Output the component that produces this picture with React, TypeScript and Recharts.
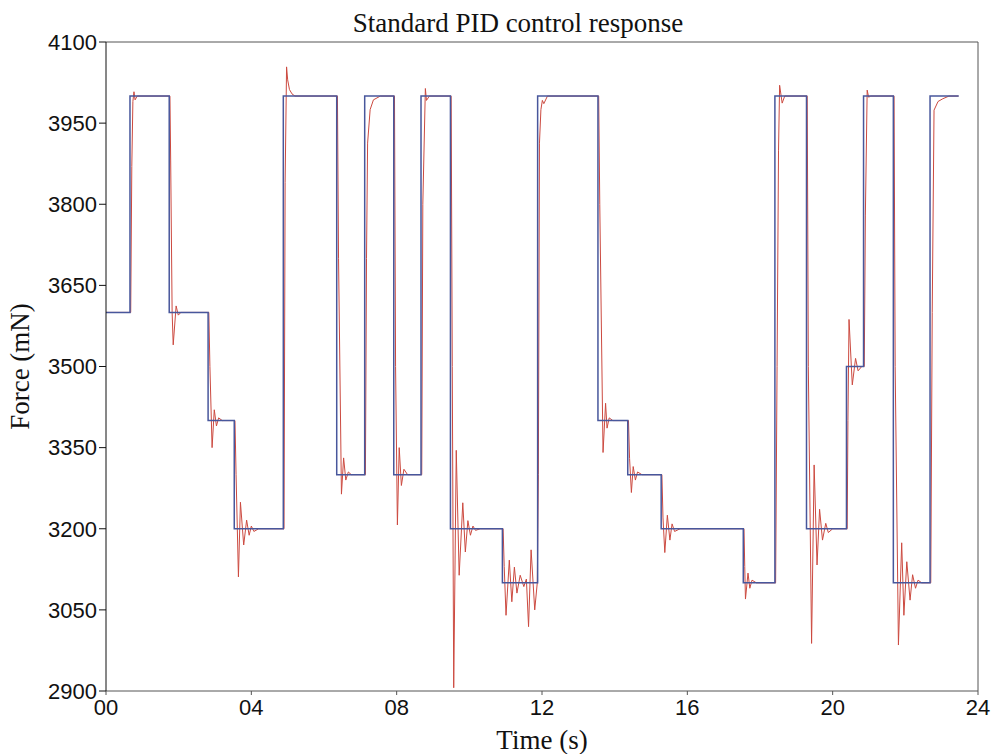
import React from "react";
import { LineChart, Line, XAxis, YAxis, ReferenceLine } from "recharts";

// Setpoint (blue): [time s, force mN], drawn as steps
const setpoint: [number, number][] = [
  [0, 3600], [0.66, 4000], [1.74, 3600], [2.81, 3400], [3.53, 3200],
  [4.88, 4000], [6.35, 3300], [7.12, 4000], [7.92, 3300], [8.67, 4000],
  [9.48, 3200], [10.91, 3100], [11.88, 4000], [13.54, 3400], [14.36, 3300],
  [15.28, 3200], [17.54, 3100], [18.41, 4000], [19.28, 3200], [20.38, 3500],
  [20.85, 4000], [21.67, 3100], [22.68, 4000], [23.47, 4000],
];

// Measured response (red): [time s, force mN]
const response: [number, number][] = [
  [0, 3600], [0.68, 3600], [0.71, 3870], [0.74, 3990], [0.77, 4008], [0.8, 3993], [0.86, 4000],
  [1.76, 4000], [1.78, 3880], [1.82, 3600], [1.85, 3540], [1.93, 3612], [1.99, 3595], [2.06, 3600],
  [2.83, 3600], [2.86, 3500], [2.92, 3350], [2.98, 3420], [3.04, 3390], [3.1, 3405], [3.2, 3400],
  [3.55, 3400], [3.58, 3300], [3.645, 3111], [3.7, 3249], [3.79, 3170], [3.87, 3216], [3.94, 3188],
  [4.0, 3205], [4.07, 3195], [4.2, 3200],
  [4.9, 3200], [4.93, 3840], [4.97, 4054], [5.0, 4030], [5.05, 4012], [5.12, 4004], [5.2, 4000],
  [6.37, 4000], [6.4, 3700], [6.48, 3264], [6.54, 3331], [6.6, 3290], [6.67, 3305], [6.75, 3300],
  [7.14, 3300], [7.17, 3700], [7.2, 3913], [7.27, 3975], [7.36, 3993], [7.55, 4000],
  [7.94, 4000], [7.97, 3500], [8.02, 3207], [8.07, 3350], [8.13, 3280], [8.2, 3310], [8.3, 3300],
  [8.69, 3300], [8.72, 3800], [8.79, 4014], [8.82, 3992], [8.9, 4000],
  [9.5, 4000], [9.53, 3500], [9.57, 2906], [9.64, 3345], [9.72, 3114], [9.82, 3248], [9.89, 3157],
  [9.96, 3215], [10.03, 3188], [10.1, 3205], [10.17, 3197], [10.3, 3200],
  [10.93, 3200], [10.96, 3130], [11.01, 3040], [11.1, 3142], [11.17, 3065], [11.24, 3129],
  [11.31, 3081], [11.4, 3114], [11.5, 3093], [11.57, 3107], [11.63, 3019], [11.7, 3161],
  [11.8, 3050], [11.87, 3100],
  [11.9, 3300], [11.93, 3913], [11.97, 3975], [12.01, 3992], [12.05, 3986], [12.15, 4000],
  [13.56, 4000], [13.59, 3800], [13.68, 3341], [13.75, 3432], [13.79, 3386], [13.85, 3405], [13.95, 3400],
  [14.38, 3400], [14.41, 3330], [14.46, 3267], [14.51, 3315], [14.57, 3290], [14.63, 3305], [14.75, 3300],
  [15.3, 3300], [15.33, 3220], [15.38, 3156], [15.45, 3225], [15.52, 3179], [15.58, 3209],
  [15.65, 3195], [15.8, 3200],
  [17.56, 3200], [17.58, 3130], [17.6, 3070], [17.67, 3118], [17.72, 3090], [17.78, 3105], [17.9, 3100],
  [18.43, 3100], [18.47, 3500], [18.51, 3900], [18.54, 4020], [18.61, 3987], [18.68, 4000],
  [19.3, 4000], [19.33, 3500], [19.42, 2988], [19.49, 3318], [19.57, 3133], [19.64, 3236],
  [19.72, 3179], [19.81, 3210], [19.88, 3193], [20.0, 3200],
  [20.4, 3200], [20.42, 3400], [20.45, 3587], [20.54, 3466], [20.63, 3515], [20.7, 3492], [20.8, 3500],
  [20.87, 3500], [20.9, 3780], [20.95, 4011], [20.99, 3998], [21.05, 4000],
  [21.69, 4000], [21.72, 3500], [21.81, 2985], [21.9, 3174], [21.96, 3040], [22.04, 3139],
  [22.13, 3068], [22.2, 3115], [22.28, 3090], [22.35, 3105], [22.45, 3100],
  [22.7, 3100], [22.74, 3600], [22.79, 3974], [22.9, 3990], [23.03, 3995], [23.2, 4000], [23.46, 4000],
];

const xTicks = [0, 4, 8, 12, 16, 20, 24];
const yTicks = [2900, 3050, 3200, 3350, 3500, 3650, 3800, 3950, 4100];

const setpointData = setpoint.map(([t, f]) => ({ t, f }));
const responseData = response.map(([t, f]) => ({ t, f }));

const SANS = "'Liberation Sans', Arial, sans-serif";
const SERIF = "'Liberation Serif', 'Times New Roman', serif";

export default function App() {
  return (
    <div style={{ position: "absolute", left: 0, top: 0, width: 991, height: 754, background: "#fff" }}>
      <div
        style={{
          position: "absolute", left: 268, top: 10, width: 500, textAlign: "center",
          fontFamily: SERIF, fontSize: 27, lineHeight: "27px", color: "#111",
        }}
      >
        Standard PID control response
      </div>
      <LineChart width={991} height={754} margin={{ top: 42, right: 13, bottom: 0, left: 0 }}>
        <XAxis
          dataKey="t"
          type="number"
          domain={[0, 24]}
          ticks={xTicks}
          allowDataOverflow
          tickFormatter={(v) => String(v).padStart(2, "0")}
          height={63}
          tickSize={4}
          tickMargin={4}
          stroke="#555"
          tick={{ fill: "#111", fontFamily: SANS, fontSize: 22 }}
          label={{ value: "Time (s)", position: "insideBottom", offset: 5, fill: "#111", fontFamily: SERIF, fontSize: 27 }}
        />
        <YAxis
          dataKey="f"
          type="number"
          domain={[2900, 4100]}
          ticks={yTicks}
          allowDataOverflow
          width={106}
          tickSize={7}
          tickMargin={2}
          stroke="#111"
          tick={{ fill: "#111", fontFamily: SANS, fontSize: 22 }}
          label={{ value: "Force (mN)", angle: -90, position: "insideLeft", offset: 19, fill: "#111", fontFamily: SERIF, fontSize: 27, style: { textAnchor: "middle" } }}
        />
        <ReferenceLine y={4100} stroke="#555" ifOverflow="visible" />
        <ReferenceLine x={24} stroke="#555" ifOverflow="visible" />
        <Line
          data={responseData}
          dataKey="f"
          type="linear"
          stroke="#cc4a40"
          strokeWidth={1}
          dot={false}
          isAnimationActive={false}
        />
        <Line
          data={setpointData}
          dataKey="f"
          type="stepAfter"
          stroke="#48579c"
          strokeWidth={1.5}
          dot={false}
          isAnimationActive={false}
        />
      </LineChart>
    </div>
  );
}
